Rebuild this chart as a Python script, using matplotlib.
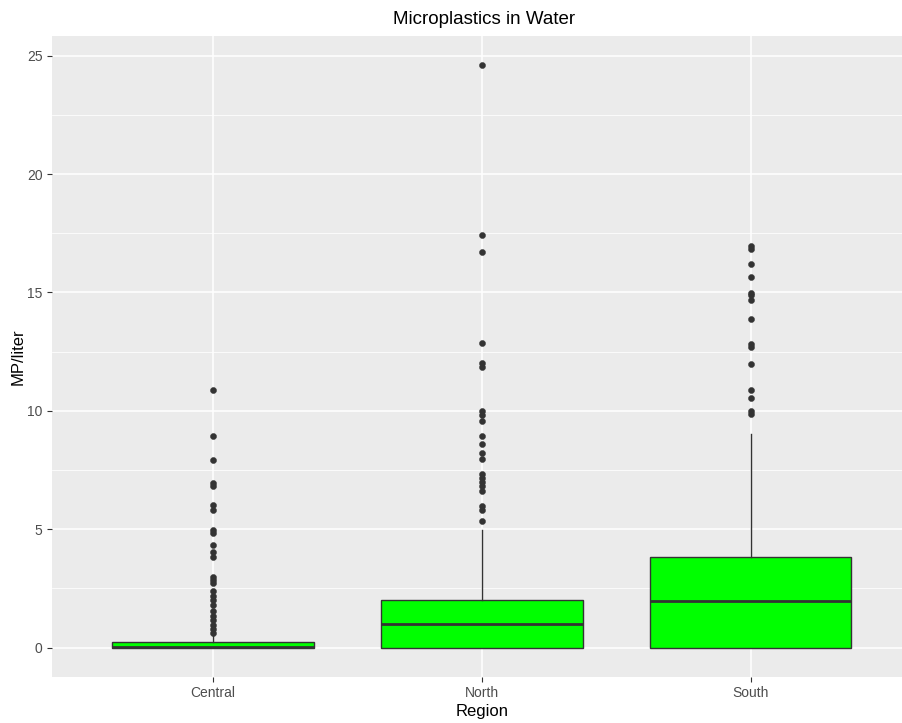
import matplotlib
matplotlib.use("Agg")
import matplotlib.pyplot as plt
from matplotlib.ticker import MultipleLocator

plt.rcParams['font.family'] = ['Liberation Sans', 'DejaVu Sans']

# Region summary statistics (MP/liter)
regions = ["Central", "North", "South"]
q1 = [0.0, 0.0, 0.0]
medians = [0.04, 0.98, 1.95]
q3 = [0.23, 1.99, 3.83]
whisker_low = [0.0, 0.0, 0.0]
whisker_high = [0.55, 4.97, 9.0]

# Outlying samples per region
outliers_central = [10.86, 8.92, 7.94, 6.97, 6.83, 6.02, 5.83, 4.98, 4.84, 4.32,
                    4.02, 3.82, 3.0, 2.86, 2.74, 2.37, 2.17, 1.99, 1.81, 1.54,
                    1.33, 1.17, 0.96, 0.79, 0.62]
outliers_north = [24.59, 17.42, 16.69, 12.86, 12.0, 11.84, 10.0, 9.82, 9.58, 8.93,
                  8.59, 8.22, 7.96, 7.35, 7.18, 7.0, 6.81, 6.61, 5.98, 5.8, 5.35]
outliers_south = [16.94, 16.83, 16.21, 15.66, 14.99, 14.88, 14.68, 13.89, 12.82,
                  12.71, 11.98, 10.86, 10.55, 9.99, 9.86]
outliers = [outliers_central, outliers_north, outliers_south]

stats = []
for i, name in enumerate(regions):
    stats.append(dict(label=name, q1=q1[i], med=medians[i], q3=q3[i],
                      whislo=whisker_low[i], whishi=whisker_high[i],
                      fliers=outliers[i]))

W, H = 902, 723
fig = plt.figure(figsize=(W / 100, H / 100), dpi=100)
left, right, top, bottom = 51.5, 912, 36, 676.7
ax = fig.add_axes([left / W, 1 - bottom / H, (right - left) / W, (bottom - top) / H])
ax.set_facecolor('#EBEBEB')
for s in ax.spines.values():
    s.set_visible(False)

dark = '#333333'
ax.bxp(stats, positions=[1, 2, 3], widths=0.75, patch_artist=True,
       showcaps=False,
       boxprops=dict(facecolor='#00FF00', edgecolor=dark, linewidth=1.0),
       whiskerprops=dict(color=dark, linewidth=1.0),
       medianprops=dict(color=dark, linewidth=2.0),
       flierprops=dict(marker='o', markerfacecolor=dark, markeredgecolor=dark,
                       markeredgewidth=0.3, markersize=4.4, linestyle='none'),
       zorder=3)

ax.set_xlim(0.4, 3.6)
ax.set_ylim(-1.23, 25.83)
ax.yaxis.set_major_locator(MultipleLocator(5))
ax.yaxis.set_minor_locator(MultipleLocator(2.5))
ax.set_xticks([1, 2, 3])
ax.set_xticklabels(regions)

ax.grid(which='major', color='white', linewidth=1.1, zorder=0)
ax.grid(which='minor', axis='y', color='white', linewidth=0.55, zorder=0)
ax.set_axisbelow(True)
ax.tick_params(which='minor', length=0)
ax.tick_params(which='major', length=3.5, width=0.8, color=dark,
               labelsize=10, labelcolor='#4D4D4D', pad=3)

ax.set_xlabel('Region', fontsize=12, color='black', labelpad=3)
ax.set_ylabel('MP/liter', fontsize=12, color='black', labelpad=1)
fig.text(484 / W, 1 - 19 / H, 'Microplastics in Water', ha='center', va='center',
         fontsize=13.5, color='black')

fig.savefig('out.png', dpi=100)
